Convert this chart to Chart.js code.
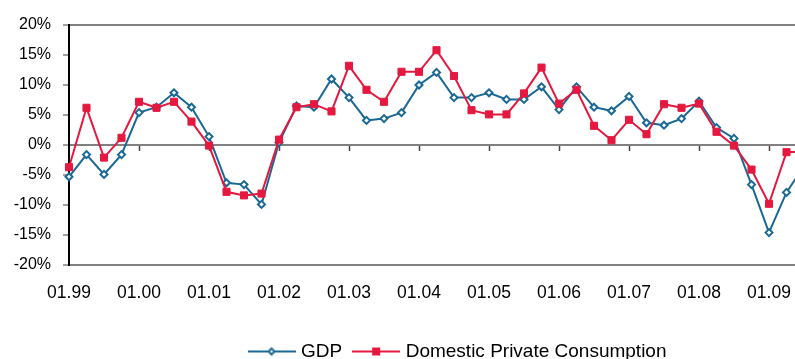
<!DOCTYPE html>
<html>
<head>
<meta charset="utf-8">
<script src="https://cdn.jsdelivr.net/npm/chart.js@4/dist/chart.umd.min.js"></script>
<style>
  html, body { margin: 0; padding: 0; background: #fff; overflow: hidden; }
  #wrap { width: 795px; height: 359px; overflow: hidden; position: relative; }
  #chart { display: block; }
</style>
</head>
<body>
<div id="wrap">
  <canvas id="chart" width="918" height="359" style="width:918px;height:359px"></canvas>
</div>
<script>
// Quarterly period labels (month.year), Q1 1999 to Q3 2009
const quarters = [
  '01.99','04.99','07.99','10.99',
  '01.00','04.00','07.00','10.00',
  '01.01','04.01','07.01','10.01',
  '01.02','04.02','07.02','10.02',
  '01.03','04.03','07.03','10.03',
  '01.04','04.04','07.04','10.04',
  '01.05','04.05','07.05','10.05',
  '01.06','04.06','07.06','10.06',
  '01.07','04.07','07.07','10.07',
  '01.08','04.08','07.08','10.08',
  '01.09','04.09','07.09'
];

// Year-on-year growth, %
const gdp = [
  -5.3, -1.6, -4.9, -1.6,
   5.4,  6.3,  8.7,  6.3,
   1.4, -6.3, -6.6, -9.9,
   0.4,  6.5,  6.3, 11.0,
   7.9,  4.1,  4.4,  5.4,
  10.0, 12.1,  7.9,  7.9,
   8.7,  7.6,  7.6,  9.7,
   5.9,  9.7,  6.3,  5.7,
   8.1,  3.7,  3.3,  4.4,
   7.3,  2.9,  1.1, -6.6,
 -14.6, -7.9, -3.5
];

const consumption = [
  -3.7,  6.2, -2.1,  1.2,
   7.2,  6.2,  7.2,  3.9,
  -0.1, -7.8, -8.4, -8.1,
   0.9,  6.3,  6.8,  5.6,
  13.2,  9.2,  7.2, 12.2,
  12.2, 15.8, 11.5,  5.8,
   5.1,  5.1,  8.6, 12.9,
   6.9,  9.2,  3.2,  0.8,
   4.2,  1.8,  6.8,  6.2,
   6.9,  2.2, -0.1, -4.1,
  -9.8, -1.2, -1.1
];

const seriesNames = ['GDP', 'Domestic Private Consumption'];
const yTicks = [-20, -15, -10, -5, 0, 5, 10, 15, 20];

const BLUE = '#1a6896';
const RED = '#e5183f';
const GRID = '#808080';

Chart.defaults.font.family = "'Liberation Sans', Arial, sans-serif";
Chart.defaults.color = '#000';

// Legend swatch: a short line with the series marker on it
function swatch(color, marker) {
  const c = document.createElement('canvas');
  c.width = 48; c.height = 12;
  const g = c.getContext('2d');
  g.strokeStyle = color;
  g.lineWidth = 2;
  g.beginPath(); g.moveTo(0, 6); g.lineTo(48, 6); g.stroke();
  if (marker === 'diamond') {
    g.beginPath();
    g.moveTo(21, 6); g.lineTo(24, 3); g.lineTo(27, 6); g.lineTo(24, 9);
    g.closePath();
    g.fillStyle = '#fff'; g.fill();
    g.lineWidth = 2; g.stroke();
  } else {
    g.fillStyle = color;
    g.fillRect(20, 2, 8, 8);
  }
  return c;
}
const swatches = [swatch(BLUE, 'diamond'), swatch(RED, 'square')];

const isYearStart = (i) => quarters[i] && quarters[i].startsWith('01.');

new Chart(document.getElementById('chart'), {
  type: 'line',
  data: {
    labels: quarters,
    datasets: [
      {
        label: seriesNames[0],
        data: gdp,
        order: 2,
        borderColor: BLUE,
        borderWidth: 2,
        tension: 0,
        pointStyle: 'rectRot',
        pointRadius: 3.5,
        pointBorderWidth: 2,
        pointBackgroundColor: '#fff',
        pointBorderColor: BLUE,
        clip: false
      },
      {
        label: seriesNames[1],
        data: consumption,
        order: 1,
        borderColor: RED,
        borderWidth: 2,
        tension: 0,
        pointStyle: 'rect',
        pointRadius: 5,
        pointBorderWidth: 1,
        pointBackgroundColor: RED,
        pointBorderColor: RED,
        clip: false
      }
    ]
  },
  options: {
    responsive: false,
    animation: false,
    devicePixelRatio: 1,
    layout: { padding: { top: 25, right: 0, bottom: 0, left: 0 } },
    plugins: {
      tooltip: { enabled: false },
      legend: {
        position: 'bottom',
        align: 'center',
        maxHeight: 31,
        labels: {
          usePointStyle: true,
          pointStyleWidth: 40,
          padding: 14,
          color: '#000',
          font: { size: 19 },
          generateLabels: () => seriesNames.map((name, i) => ({
            text: name,
            pointStyle: swatches[i],
            datasetIndex: i,
            hidden: false,
            fontColor: '#000',
            lineWidth: 0
          }))
        }
      }
    },
    scales: {
      x: {
        type: 'category',
        position: 'bottom',
        offset: false,
        grid: { display: false, drawTicks: false },
        border: { display: false },
        ticks: {
          autoSkip: false,
          maxRotation: 0,
          padding: 18,
          color: '#000',
          font: { size: 17.5 },
          callback: (v, i) => isYearStart(i) ? quarters[i] : ''
        },
        afterFit: (s) => { s.height = 63; }
      },
      xZero: {
        type: 'category',
        position: { y: 0 },
        offset: false,
        grid: {
          display: true,
          drawOnChartArea: false,
          drawTicks: true,
          tickLength: 5,
          tickWidth: 1.5,
          tickColor: (ctx) => isYearStart(ctx.index) && ctx.index > 0 ? '#444' : 'transparent'
        },
        border: { display: true, color: GRID, width: 2 },
        ticks: { display: false }
      },
      y: {
        min: -20,
        max: 20,
        afterBuildTicks: (s) => { s.ticks = yTicks.map(v => ({ value: v })); },
        grid: {
          color: (ctx) => [20, 0, -20].includes(ctx.tick.value) ? GRID : 'transparent',
          lineWidth: 2,
          tickColor: GRID,
          tickWidth: 1.5,
          tickLength: 6,
          drawTicks: true
        },
        border: { display: true, color: '#000', width: 2 },
        ticks: {
          padding: 12,
          color: '#000',
          font: { size: 16 },
          callback: (v) => v + '%'
        },
        afterFit: (s) => { s.width = 69; }
      },
      // empty right-hand margin where the plot runs on past the visible edge
      yMargin: {
        type: 'linear',
        position: 'right',
        grid: { display: false, drawTicks: false },
        border: { display: false },
        ticks: { display: false },
        afterFit: (s) => { s.width = 114; }
      }
    }
  }
});
</script>
</body>
</html>
